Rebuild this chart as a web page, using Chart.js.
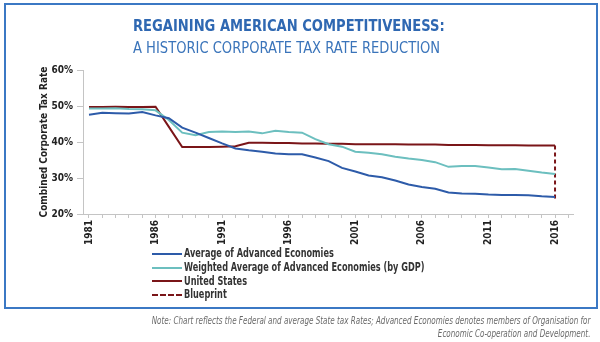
<!DOCTYPE html>
<html>
<head>
<meta charset="utf-8">
<script src="https://cdn.jsdelivr.net/npm/chart.js@4"></script>
<style>
  html, body { margin: 0; padding: 0; background: #fff; }
  body { width: 600px; height: 342px; position: relative; overflow: hidden; }
  #frame { position: absolute; left: 4px; top: 3px; width: 594px; height: 306px; box-sizing: border-box; border: 2px solid #3b78c4; }
  #chart { position: absolute; left: 0; top: 0; }
  .head { position: absolute; left: 133px; white-space: nowrap; font-family: 'DejaVu Sans Condensed', sans-serif; transform: scaleX(0.91); transform-origin: left center; }
  #title { top: 16px; font-size: 16px; font-weight: bold; color: #2f68b2; }
  #subtitle { top: 38px; font-size: 16px; color: #3a74ba; }
  #legend { position: absolute; left: 152px; top: 247px; font-family: 'DejaVu Sans Condensed', sans-serif; font-weight: bold; font-size: 11.5px; color: #333; }
  #legend .row { height: 13.8px; line-height: 13.8px; display: flex; align-items: center; white-space: nowrap; }
  #legend .swatch { width: 30px; height: 0; margin-right: 2px; }
  #legend .txt { display: inline-block; transform: scaleX(0.79); transform-origin: left center; }
  #note { position: absolute; right: 10px; top: 314px; text-align: right; font-family: 'DejaVu Sans Condensed', sans-serif; font-style: italic; font-size: 10px; line-height: 13px; color: #6a6a6a; white-space: nowrap; transform: scaleX(0.8); transform-origin: right center; }
</style>
</head>
<body>
<div id="frame"></div>
<canvas id="chart" width="600" height="342"></canvas>
<div class="head" id="title">REGAINING AMERICAN COMPETITIVENESS:</div>
<div class="head" id="subtitle">A HISTORIC CORPORATE TAX RATE REDUCTION</div>
<div id="legend"></div>
<div id="note">Note: Chart reflects the Federal and average State tax Rates; Advanced Economies denotes members of Organisation for<br>Economic Co-operation and Development.</div>
<script>
const years = [1981, 1982, 1983, 1984, 1985, 1986, 1987, 1988, 1989, 1990, 1991, 1992,
  1993, 1994, 1995, 1996, 1997, 1998, 1999, 2000, 2001, 2002, 2003, 2004,
  2005, 2006, 2007, 2008, 2009, 2010, 2011, 2012, 2013, 2014, 2015, 2016];

const advancedAvg = [47.6, 48.1, 48.0, 47.9, 48.3, 47.4, 46.6, 44.0, 42.6, 41.1, 39.6, 38.2,
  37.7, 37.3, 36.8, 36.6, 36.6, 35.7, 34.7, 32.8, 31.8, 30.7, 30.2, 29.3,
  28.2, 27.5, 27.0, 26.0, 25.7, 25.6, 25.4, 25.3, 25.3, 25.2, 24.9, 24.7];

const weightedAvg = [49.3, 49.3, 49.4, 49.2, 49.1, 48.8, 46.1, 42.6, 41.9, 42.8, 42.9, 42.8,
  42.9, 42.4, 43.1, 42.8, 42.6, 40.8, 39.4, 38.7, 37.3, 37.0, 36.6, 35.9,
  35.4, 35.0, 34.4, 33.1, 33.3, 33.3, 32.9, 32.4, 32.5, 32.0, 31.5, 31.1];

const unitedStates = [49.7, 49.7, 49.8, 49.7, 49.7, 49.8, 44.2, 38.6, 38.6, 38.6, 38.7, 38.8,
  39.8, 39.8, 39.7, 39.7, 39.6, 39.6, 39.5, 39.5, 39.4, 39.4, 39.4, 39.4,
  39.3, 39.3, 39.3, 39.2, 39.2, 39.2, 39.1, 39.1, 39.1, 39.0, 39.0, 39.0];

const blueprintYears = [2016, 2016];
const blueprint = [39.0, 24.0];

const yTicks = [20, 30, 40, 50, 60];

const narrow = "'DejaVu Sans Condensed', sans-serif";

function toPoints(xs, ys) {
  return xs.map((x, i) => ({ x: x, y: ys[i] }));
}

const datasets = [
  { label: 'Average of Advanced Economies', data: toPoints(years, advancedAvg), borderColor: '#2d5ba9' },
  { label: 'Weighted Average of Advanced Economies (by GDP)', data: toPoints(years, weightedAvg), borderColor: '#6cbfbf' },
  { label: 'United States', data: toPoints(years, unitedStates), borderColor: '#7a1518' },
  { label: 'Blueprint', data: toPoints(blueprintYears, blueprint), borderColor: '#7a1518', borderDash: [4, 3] }
].map(d => Object.assign({ borderWidth: 2, pointRadius: 0, tension: 0, fill: false }, d));

const ctx = document.getElementById('chart').getContext('2d');
const chart = new Chart(ctx, {
  type: 'line',
  data: { datasets: datasets },
  options: {
    responsive: false,
    animation: false,
    layout: { padding: { left: 0, top: 70, right: 27, bottom: 0 } },
    plugins: { legend: { display: false }, tooltip: { enabled: false } },
    scales: {
      x: {
        type: 'linear',
        min: 1980.55,
        max: 2017.35,
        afterFit: s => { s.height = 128; },
        grid: { drawOnChartArea: false, tickLength: 4, color: '#c4c4c4' },
        border: { color: '#c4c4c4' },
        ticks: {
          stepSize: 1,
          includeBounds: false,
          autoSkip: false,
          minRotation: 90,
          maxRotation: 90,
          padding: 2,
          color: '#222',
          font: { family: narrow, size: 10, weight: 'bold' },
          callback: v => ((v - 1981) % 5 === 0 ? String(v) : '')
        }
      },
      y: {
        min: 20,
        max: 60,
        afterFit: s => { s.width = 83; },
        afterBuildTicks: s => { s.ticks = yTicks.map(v => ({ value: v })); },
        grid: { drawOnChartArea: false, tickLength: 6, color: '#c4c4c4' },
        border: { color: '#c4c4c4' },
        ticks: {
          padding: 4,
          color: '#222',
          font: { family: narrow, size: 10, weight: 'bold' },
          callback: v => v + '%'
        },
        title: {
          display: true,
          text: 'Combined Corporate Tax Rate',
          color: '#222',
          padding: { top: 38, bottom: 0 },
          font: { family: narrow, size: 10, weight: 'bold' }
        }
      }
    }
  }
});

// vertical legend below the plot, built from the dataset styles
const legend = document.getElementById('legend');
chart.data.datasets.forEach(ds => {
  const row = document.createElement('div');
  row.className = 'row';
  const sw = document.createElement('span');
  sw.className = 'swatch';
  sw.style.borderTop = '2px ' + (ds.borderDash ? 'dashed ' : 'solid ') + ds.borderColor;
  const txt = document.createElement('span');
  txt.className = 'txt';
  txt.textContent = ds.label;
  row.appendChild(sw);
  row.appendChild(txt);
  legend.appendChild(row);
});
</script>
</body>
</html>
